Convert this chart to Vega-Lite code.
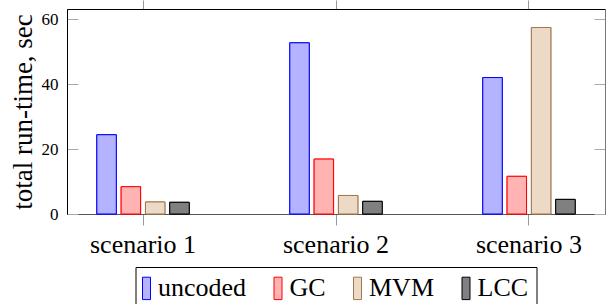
{
  "$schema": "https://vega.github.io/schema/vega-lite/v6.json",
  "width": 538,
  "height": 205,
  "autosize": {"type": "none"},
  "padding": {"left": 67, "top": 9, "right": 2, "bottom": 90},
  "background": "white",
  "config": {
    "view": {"stroke": "#666", "strokeWidth": 1},
    "font": "Liberation Serif",
    "axis": {"grid": false, "labelFont": "Liberation Serif", "titleFont": "Liberation Serif", "labelColor": "black", "titleColor": "black", "titleFontWeight": "normal"},
    "legend": {"labelFont": "Liberation Serif"}
  },
  "data": {
    "values": [
      {"scenario": "scenario 1", "method": "uncoded", "time": 24.4},
      {"scenario": "scenario 1", "method": "GC", "time": 8.4},
      {"scenario": "scenario 1", "method": "MVM", "time": 3.7},
      {"scenario": "scenario 1", "method": "LCC", "time": 3.6},
      {"scenario": "scenario 2", "method": "uncoded", "time": 52.7},
      {"scenario": "scenario 2", "method": "GC", "time": 16.9},
      {"scenario": "scenario 2", "method": "MVM", "time": 5.7},
      {"scenario": "scenario 2", "method": "LCC", "time": 3.9},
      {"scenario": "scenario 3", "method": "uncoded", "time": 42.0},
      {"scenario": "scenario 3", "method": "GC", "time": 11.6},
      {"scenario": "scenario 3", "method": "MVM", "time": 57.4},
      {"scenario": "scenario 3", "method": "LCC", "time": 4.5}
    ]
  },
  "encoding": {
    "xOffset": {"field": "method", "type": "nominal", "sort": ["uncoded", "GC", "MVM", "LCC"], "scale": {"paddingInner": 0.2, "paddingOuter": 0.1}},
    "fill": {"field": "method", "type": "nominal", "title": null,
      "scale": {"domain": ["uncoded", "GC", "MVM", "LCC"], "range": ["#b3b3ff", "#ffb3b3", "#ecd9c6", "#808080"]},
      "legend": {"orient": "none", "legendX": 68.5, "legendY": 258, "direction": "horizontal", "symbolType": "M-1,-2.8H1V2.8H-1Z", "symbolSize": 64, "symbolStrokeWidth": 1, "symbolOffset": -10, "labelFont": "Liberation Serif", "labelFontSize": 26, "labelColor": "black", "labelOffset": -1.5, "columnPadding": 25.5, "padding": 8, "strokeColor": "black"}},
    "stroke": {"field": "method", "type": "nominal", "title": null,
      "scale": {"domain": ["uncoded", "GC", "MVM", "LCC"], "range": ["#0000ff", "#ff0000", "#a07850", "#000000"]},
      "legend": {"orient": "none", "legendX": 68.5, "legendY": 258, "direction": "horizontal", "symbolType": "M-1,-2.8H1V2.8H-1Z", "symbolSize": 64, "symbolStrokeWidth": 1, "symbolOffset": -10, "labelFont": "Liberation Serif", "labelFontSize": 26, "labelColor": "black", "labelOffset": -1.5, "columnPadding": 25.5, "padding": 8, "strokeColor": "black"}}
  },
  "layer": [
    {
      "mark": {"type": "bar", "strokeWidth": 1},
      "encoding": {
        "x": {"field": "scenario", "type": "nominal", "title": null, "scale": {"paddingInner": 0.496, "paddingOuter": 0.142},
          "axis": {"orient": "bottom", "labelAngle": 0, "labelFont": "Liberation Serif", "labelFontSize": 26, "labelPadding": 6, "tickSize": 11, "tickColor": "#999", "domainColor": "#555", "labelBaseline": "top"}},
        "y": {"field": "time", "type": "quantitative", "title": "total run-time, sec", "scale": {"domain": [0, 63.1], "nice": false},
          "axis": {"orient": "left", "values": [0, 20, 40, 60], "labelFont": "Liberation Serif", "labelFontSize": 17, "tickSize": -11, "tickColor": "#aaa", "labelPadding": 20, "domainColor": "black", "titleFont": "Liberation Serif", "titleFontSize": 27, "titlePadding": 4}}
      }
    },
    {
      "mark": {"type": "bar", "strokeWidth": 1},
      "encoding": {
        "x": {"field": "scenario", "type": "nominal", "title": null, "scale": {"paddingInner": 0.496, "paddingOuter": 0.142},
          "axis": {"orient": "top", "labels": false, "tickSize": 9, "tickColor": "#999", "domainColor": "black"}},
        "y": {"field": "time", "type": "quantitative", "title": null, "scale": {"domain": [0, 63.1], "nice": false},
          "axis": {"orient": "right", "values": [0, 20, 40, 60], "labels": false, "tickSize": -11, "tickColor": "#aaa", "domainColor": "#777"}}
      }
    }
  ],
  "resolve": {"scale": {"x": "independent", "y": "independent"}, "axis": {"x": "independent", "y": "independent"}}
}
